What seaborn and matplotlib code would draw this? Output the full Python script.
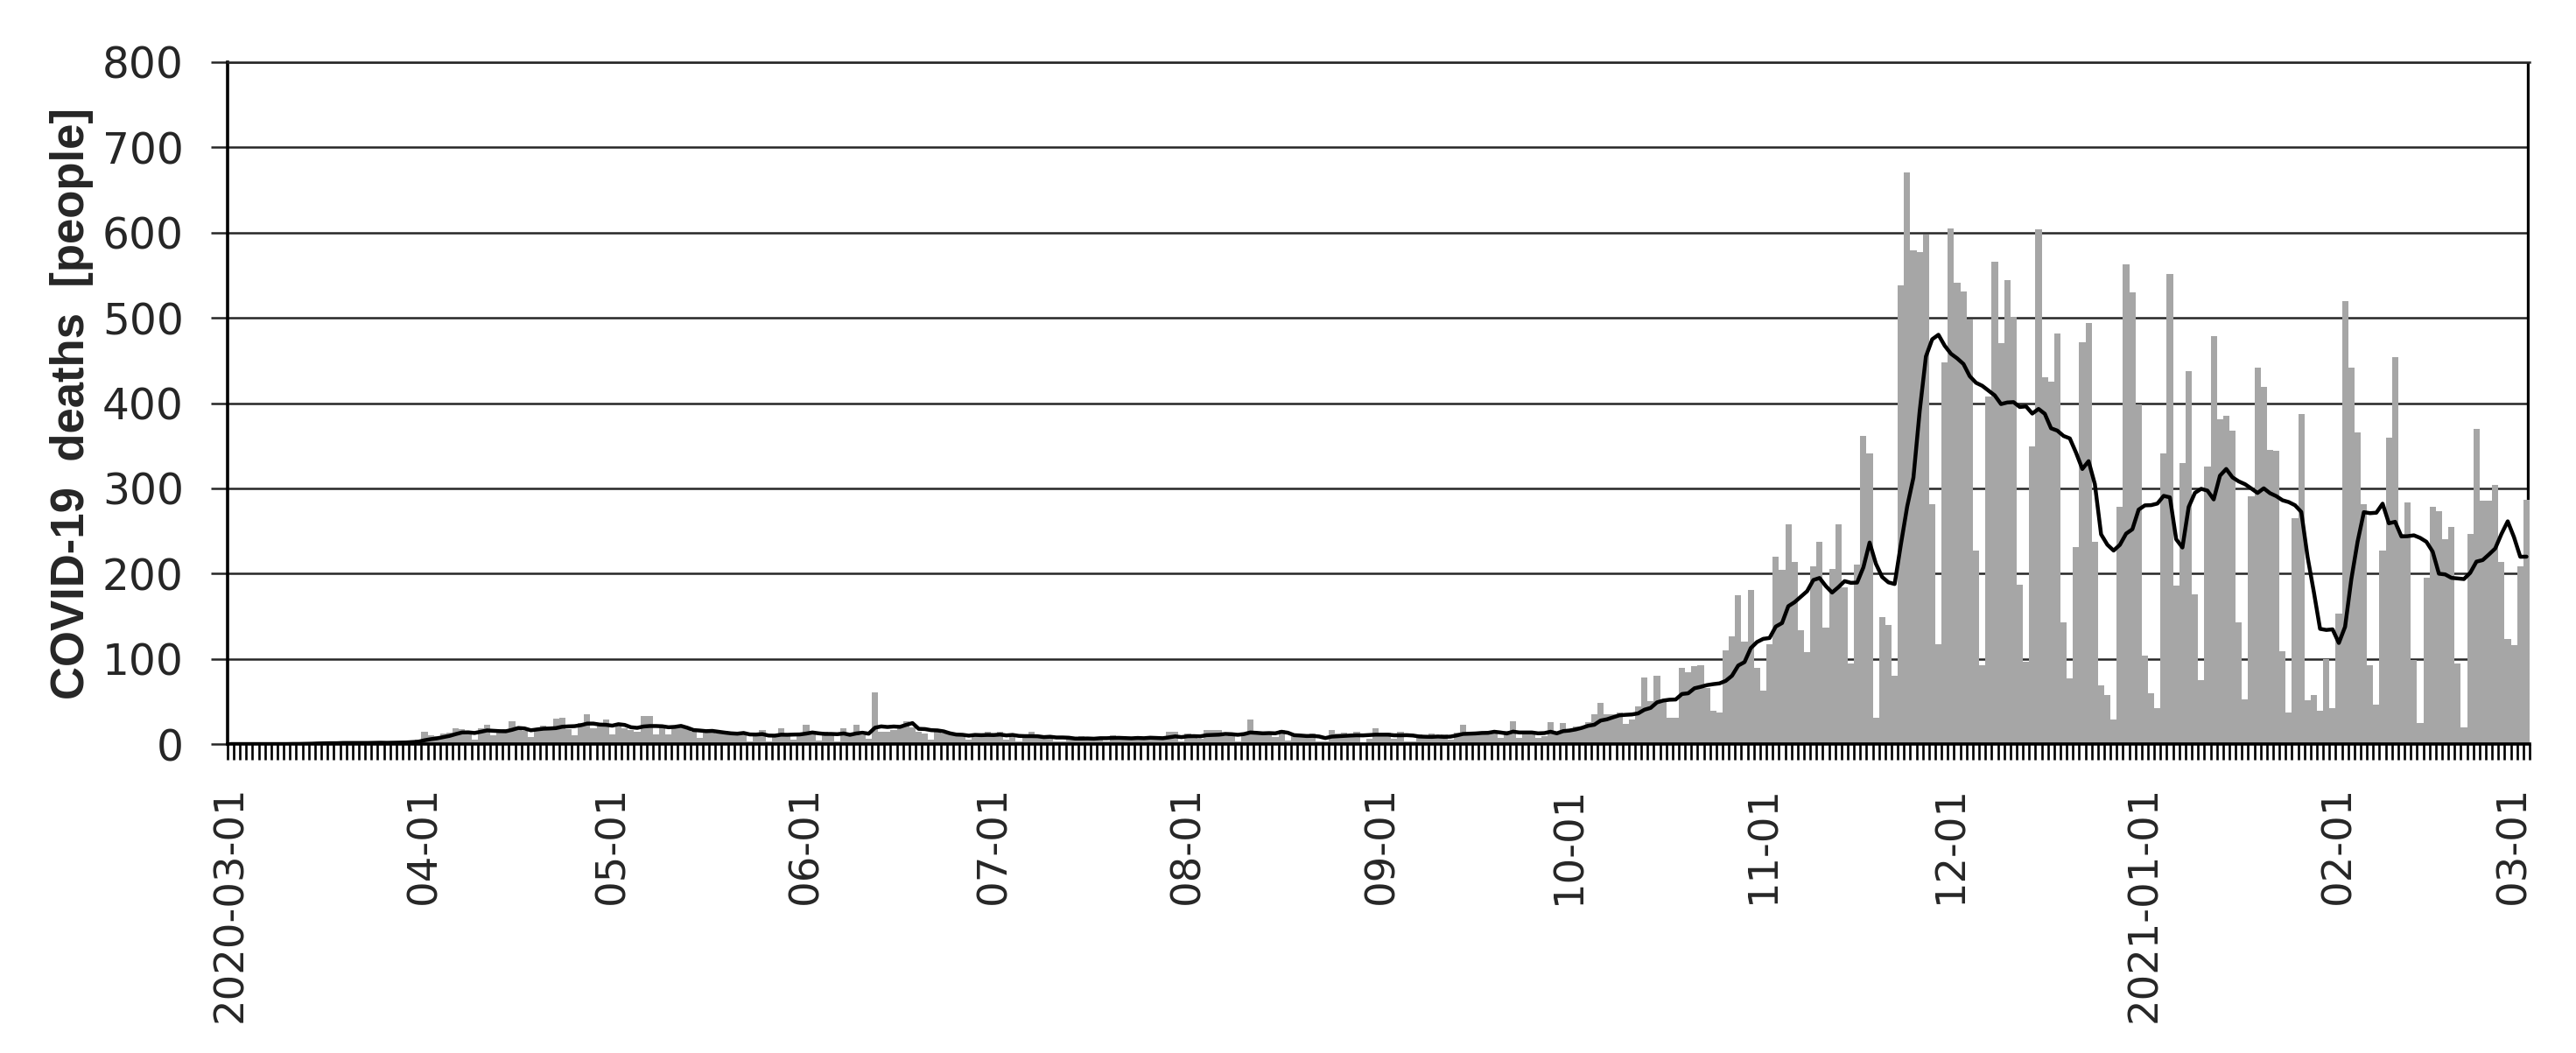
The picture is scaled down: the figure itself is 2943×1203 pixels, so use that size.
import numpy as np
import pandas as pd
import seaborn as sns
import matplotlib.pyplot as plt

# daily COVID-19 deaths, 2020-03-01 .. 2021-03-03
deaths_2020_03 = [0, 0, 0, 0, 0, 0, 0, 0, 0, 0,
                  1, 0, 1, 1, 2, 1, 1, 1, 2, 1, 1, 2, 1, 2, 2, 1, 2,
                  2, 3, 4, 5]
deaths_2020_04 = [14, 10, 9, 12, 13, 19, 18, 15, 5, 19, 23, 10, 16, 17, 27,
                  20, 15, 8, 17, 22, 19, 30, 31, 18, 10, 25, 35, 19, 22, 29]
deaths_2020_05 = [11, 22, 19, 16, 14, 33, 33, 11, 20, 11, 19, 22, 18, 14, 7, 15,
                  13, 12, 15, 12, 11, 13, 3, 12, 16, 3, 11, 19, 12, 5, 13]
deaths_2020_06 = [23, 12, 4, 14, 12, 3, 19, 12, 23, 10, 6, 61, 14, 14, 16,
                  20, 27, 20, 14, 12, 5, 14, 12, 11, 10, 12, 5, 11, 12, 14]
deaths_2020_07 = [10, 14, 5, 9, 3, 10, 14, 9, 7, 8, 3, 3, 8, 7, 9, 8,
                  6, 7, 3, 10, 8, 7, 6, 9, 5, 7, 8, 6, 14, 14, 3]
deaths_2020_08 = [12, 8, 6, 16, 16, 16, 9, 10, 3, 12, 29, 13, 12, 11, 8, 16,
                  4, 9, 10, 8, 12, 3, 3, 16, 12, 13, 11, 14, 2, 6, 19]
deaths_2020_09 = [12, 13, 6, 14, 3, 3, 11, 10, 12, 9, 11, 5, 13, 23, 12,
                  14, 13, 12, 14, 7, 15, 27, 7, 13, 12, 7, 9, 26, 14, 25]
deaths_2020_10 = [18, 21, 20, 26, 35, 48, 35, 35, 37, 24, 29, 44, 78, 50, 80, 52,
                  31, 31, 89, 84, 91, 92, 66, 39, 37, 110, 126, 175, 120, 181, 89]
deaths_2020_11 = [63, 117, 220, 204, 258, 214, 134, 108, 209, 237, 137, 205, 258, 184, 94,
                  211, 362, 341, 31, 149, 140, 80, 538, 671, 579, 577, 598, 281, 117, 448]
deaths_2020_12 = [605, 541, 531, 498, 227, 92, 408, 566, 470, 544, 501, 187, 97, 349, 604, 430,
                  425, 482, 143, 77, 231, 471, 494, 237, 69, 58, 29, 278, 563, 530, 398]
deaths_2021_01 = [104, 60, 42, 341, 551, 186, 330, 437, 176, 75, 326, 479, 381, 385, 368, 143,
                  52, 291, 442, 419, 345, 344, 109, 37, 265, 387, 51, 58, 39, 100, 42]
deaths_2021_02 = [153, 520, 442, 366, 281, 92, 46, 227, 359, 454, 246, 283, 99, 25,
                  195, 278, 273, 240, 255, 94, 20, 246, 370, 286, 286, 304, 214, 123]
deaths_2021_03 = [116, 209, 287]

tick_labels = ['2020-03-01', '04-01', '05-01', '06-01', '07-01', '08-01', '09-01',
               '10-01', '11-01', '12-01', '2021-01-01', '02-01', '03-01']

deaths = (deaths_2020_03 + deaths_2020_04 + deaths_2020_05 + deaths_2020_06 +
          deaths_2020_07 + deaths_2020_08 + deaths_2020_09 + deaths_2020_10 +
          deaths_2020_11 + deaths_2020_12 + deaths_2021_01 + deaths_2021_02 +
          deaths_2021_03)

dates = pd.date_range('2020-03-01', periods=len(deaths), freq='D')
df = pd.DataFrame({'day': np.arange(len(deaths)), 'deaths': deaths})
df['avg7'] = df['deaths'].rolling(7, min_periods=1).mean()  # 7-day average

sns.set_style('ticks')
plt.rcParams['font.family'] = ['DejaVu Sans']

fig = plt.figure(figsize=(29.43, 12.03), dpi=100)
ax = fig.add_axes([0.0883, 0.2934, 0.8937, 0.6476])

sns.barplot(data=df, x='day', y='deaths', color='#a6a6a6', saturation=1,
            width=1.0, linewidth=0, errorbar=None, ax=ax)
sns.lineplot(data=df, x='day', y='avg7', color='black', linewidth=3.2, ax=ax, zorder=3)

n = len(deaths)
ax.set_xlim(-0.5, n - 0.5)
ax.set_ylim(0, 800)
ax.set_yticks(range(0, 801, 100))

month_pos = df.loc[dates.day == 1, 'day'].to_numpy()
ax.set_xticks(month_pos)
ax.set_xticklabels(tick_labels, rotation=90)
ax.set_xticks(np.arange(-0.5, n), minor=True)

ax.tick_params(axis='x', which='major', length=0, pad=34, labelsize=33.5)
ax.tick_params(axis='x', which='minor', length=13, width=1.9, color='black', direction='out')
ax.tick_params(axis='y', length=14, width=1.8, color='#262626', pad=22, labelsize=35)

ax.yaxis.grid(True, color='#262626', linewidth=1.8)
ax.set_axisbelow(True)

for s in ['left', 'bottom']:
    ax.spines[s].set_linewidth(2.6)
    ax.spines[s].set_color('black')
ax.spines['top'].set_linewidth(1.8)
ax.spines['top'].set_color('#262626')
ax.spines['right'].set_visible(False)
# plot-area border on the right sits behind the bars
ax.axvline(n - 0.75, color='black', linewidth=2.4, zorder=0.6)

ax.set_xlabel('')
ax.set_ylabel('COVID-19  deaths  [people]', fontsize=38, fontweight='bold',
              family=['Liberation Sans', 'DejaVu Sans'])
ax.yaxis.set_label_coords(-0.058, 0.5)

fig.savefig('out.png', dpi=100)
